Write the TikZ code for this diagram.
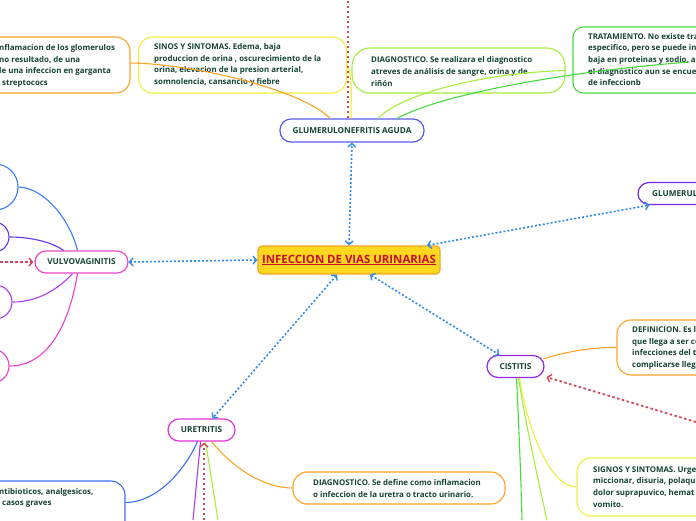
\documentclass[tikz,border=0pt]{standalone}
\usepackage{fontspec}
\setmainfont{Open Sans}
\usetikzlibrary{arrows.meta,calc}
\definecolor{txt}{RGB}{20,68,50}
\definecolor{crel}{RGB}{50,140,230}
\definecolor{cred}{RGB}{200,15,50}
\definecolor{credd}{RGB}{210,70,90}
\definecolor{cyfill}{RGB}{255,215,30}
\definecolor{cyborder}{RGB}{240,165,40}
\definecolor{corg}{RGB}{255,162,40}
\definecolor{cyel}{RGB}{238,238,60}
\definecolor{clime}{RGB}{165,238,60}
\definecolor{cgreen}{RGB}{70,218,60}
\definecolor{cga}{RGB}{90,90,240}
\definecolor{cgr}{RGB}{110,40,230}
\definecolor{cvv}{RGB}{240,70,200}
\definecolor{cLa}{RGB}{60,125,245}
\definecolor{cLb}{RGB}{100,50,240}
\definecolor{cLc}{RGB}{170,60,240}
\definecolor{cLd}{RGB}{240,60,210}
\definecolor{cci}{RGB}{150,40,220}
\definecolor{cur}{RGB}{230,50,220}
\definecolor{cbb}{RGB}{60,110,240}
\tikzset{
  box/.style={draw=#1, line width=1.1pt, fill=white, inner sep=0pt},
  topic/.style={draw=#1, line width=1.2pt, fill=white, rounded corners=11pt, inner sep=0pt,
     font=\fontsize{8.2}{9}\selectfont\bfseries, text=txt},
  txtn/.style={anchor=west, align=left, inner sep=0pt, text=txt,
     font=\fontsize{7.9}{11.7}\selectfont\bfseries},
  conn/.style={line width=1.1pt},
  rel/.style={draw=crel, line width=1.6pt, dash pattern=on 2pt off 2pt,
     {Straight Barb[length=3.5pt,width=8pt,line width=1.4pt]}-{Straight Barb[length=3.5pt,width=8pt,line width=1.4pt]}},
  redrel/.style={draw=credd, line width=1.8pt, dash pattern=on 2.5pt off 2.5pt},
  redtip/.style={-{Straight Barb[length=3.5pt,width=8pt,line width=1.4pt]}}
}
\begin{document}
\begin{tikzpicture}[x=1pt,y=-1pt]
\useasboundingbox (0,0) rectangle (696,520);
\clip (0,0) rectangle (696,520);

% boxes
\node[box=corg, rounded corners=14pt, minimum width=210pt, minimum height=56pt] (OB) at (25,65) {};
\node[box=cyel, rounded corners=14pt, minimum width=208pt, minimum height=56pt] (SB) at (242.5,65) {};
\node[box=clime, rounded corners=18pt, minimum width=213pt, minimum height=45pt] (DT) at (458.5,70.5) {};
\node[box=cgreen, rounded corners=10pt, minimum width=227pt, minimum height=66pt] (TB) at (686.5,60) {};
\node[box=corg, rounded corners=14pt, minimum width=183pt, minimum height=55pt] (DB) at (708.5,347.5) {};
\node[box=cyel, rounded corners=14pt, minimum width=223pt, minimum height=58pt] (SG) at (688.5,487) {};
\node[box=corg, rounded corners=14pt, minimum width=212pt, minimum height=32pt] (DBB) at (399,488) {};
\node[box=cbb, rounded corners=14pt, minimum width=225pt, minimum height=79pt] (BB) at (12.5,520.5) {};
\node[box=cLa, rounded corners=23pt, minimum width=118pt, minimum height=46pt] (L1) at (-41,187) {};
\node[box=cLb, rounded corners=15pt, minimum width=109pt, minimum height=30pt] (L2) at (-45.5,237) {};
\node[box=cLc, rounded corners=17pt, minimum width=112pt, minimum height=34pt] (L3) at (-44,302) {};
\node[box=cLd, rounded corners=17pt, minimum width=109pt, minimum height=34pt] (L4) at (-45.5,366) {};

% box texts
\node[txtn] (OBt) at (-1,66) {nflamacion de los glomerulos\\no resultado, de una\\le una infeccion en garganta\\\hspace*{3pt}streptococs};
\node[txtn] (SBt) at (154,65) {SINOS Y SINTOMAS. Edema, baja\\produccion de orina , oscurecimiento de la\\orina, elevacion de la presion arterial,\\somnolencia, cansancio y fiebre};
\node[txtn] (DTt) at (371,71.5) {DIAGNOSTICO. Se realizara el diagnostico\\atreves de análisis de sangre, orina y de\\riñón};
\node[txtn] (TBt) at (588,59.5) {TRATAMIENTO. No existe tra\\especifico, pero se puede in\\baja en proteinas y sodio, a\\el diagnostico aun se encue\\de infeccionb};
\node[txtn] (DBt) at (632,348) {DEFINICION. Es l\\que llega a ser co\\infecciones del t\\complicarse llega};
\node[txtn] (SGt) at (593,487) {SIGNOS Y SINTOMAS. Urge\\miccionar, disuria, polaqu\\dolor suprapuvico, hemat\\vomito.};
\node[txtn] (DBBt) at (313,488.5) {DIAGNOSTICO. Se define como inflamacion\\o infeccion de la uretra o tracto urinario.};
\node[txtn] (BBt) at (-1,498) {ntibioticos, analgesicos,\\\hspace*{3pt}casos graves};

% topic nodes
\node[draw=cyborder, fill=cyfill, line width=1.2pt, rounded corners=4pt, minimum width=182pt, minimum height=28pt, inner sep=0pt,
  font=\fontsize{11.4}{12}\selectfont\bfseries, text=cred] (C) at (349,260) {\underline{INFECCION DE VIAS URINARIAS}};
\node[topic=cga, minimum width=144pt, minimum height=23pt] (GA) at (352,130.5) {GLUMERULONEFRITIS AGUDA};
\node[topic=cgr, minimum width=142pt, minimum height=22pt] (GR) at (709,193.5) {};
\node[txtn, font=\fontsize{8.2}{9}\selectfont\bfseries] (GRt) at (652,194) {GLUMERULO};
\node[topic=cvv, minimum width=93pt, minimum height=22pt] (VV) at (81.5,262) {VULVOVAGINITIS};
\node[topic=cci, minimum width=57pt, minimum height=22pt] (CI) at (515.5,366.5) {CISTITIS};
\node[topic=cur, minimum width=67pt, minimum height=22pt] (UR) at (201.5,430) {URETRITIS};

% free ends
\coordinate (gtop) at (348,0);
\coordinate (vvin) at (0,262);
\coordinate (ciin) at (696,422);
\coordinate (cb1) at (522,520);
\coordinate (cb2) at (547,520);
\coordinate (ub1) at (193,520);
\coordinate (ub2) at (204,520);
\coordinate (ub3) at (218,520);

% connectors from GLUMERULONEFRITIS AGUDA
\draw[conn,draw=corg] ($(GA.north)+(-22,0)$) .. controls (305,92) and (200,64) .. ($(OB.east)+(0,-2)$);
\draw[conn,draw=cyel] ($(GA.north)+(-1,0)$) .. controls (351,100) and (353,75) .. (SB.east);
\draw[conn,draw=clime] ($(GA.north)+(26,0)$) .. controls (400,95) and (480,73) .. (DT.east);
\draw[conn,draw=cgreen] ($(GA.north)+(45,0)$) .. controls (440,95) and (560,72) .. ($(TB.west)+(117,2)$);
\draw[redrel] ($(GA.north)+(-4,0)$) -- (gtop);

% connectors from VULVOVAGINITIS
\draw[conn,draw=cLa] (L1.east) .. controls (45,188) and (70,220) .. ($(VV.north)+(-4,0)$);
\draw[conn,draw=cLb] (L2.east) .. controls (35,237) and (55,244) .. ($(VV.north)+(-18,0)$);
\draw[conn,draw=cLc] (L3.east) .. controls (40,302) and (60,287) .. ($(VV.south)+(-9,0)$);
\draw[conn,draw=cLd] (L4.east) .. controls (50,366) and (70,320) .. ($(VV.south)+(-4,0)$);
\draw[redrel,redtip] (vvin) -- ($(VV.west)+(-1,0)$);

% connectors from CISTITIS
\draw[conn,draw=corg] ($(CI.north east)+(-1,4)$) .. controls (570,350) and (600,347) .. (DB.west);
\draw[conn,draw=cyel] ($(CI.south)+(4,0)$) .. controls (528,430) and (550,487) .. (SG.west);
\draw[conn,draw=cgreen] ($(CI.south)+(1,0)$) .. controls (519,430) and (521,480) .. (cb1);
\draw[conn,draw=clime] ($(CI.south)+(3,0)$) .. controls (525,420) and (538,480) .. (cb2);
\draw[redrel,redtip] (ciin) -- ($(CI.south east)+(2,-1)$);

% connectors from URETRITIS
\draw[conn,draw=corg] ($(UR.south)+(10,0)$) .. controls (235,470) and (265,488) .. (DBB.west);
\draw[conn,draw=cbb] ($(UR.south)+(-4,0)$) .. controls (180,480) and (150,503) .. ($(BB.north east)+(0,22)$);
\draw[conn,draw=cLc] ($(UR.south)+(-1,0)$) -- (ub1);
\draw[conn,draw=clime] ($(UR.south)+(4,0)$) -- (ub3);
\draw[redrel,redtip] (ub2) -- ($(UR.south)+(2.5,1)$);

% relationships from the central topic
\draw[rel] (C.north) -- (GA.south);
\draw[rel] ($(C.north)+(78,0)$) -- ($(GR.south west)+(12,0)$);
\draw[rel] (C.west) -- (VV.east);
\draw[rel] ($(C.south)+(21,0)$) -- ($(CI.north west)+(13,0)$);
\draw[rel] ($(C.south)+(-12,0)$) -- ($(UR.north)+(11,0)$);
\end{tikzpicture}
\end{document}
